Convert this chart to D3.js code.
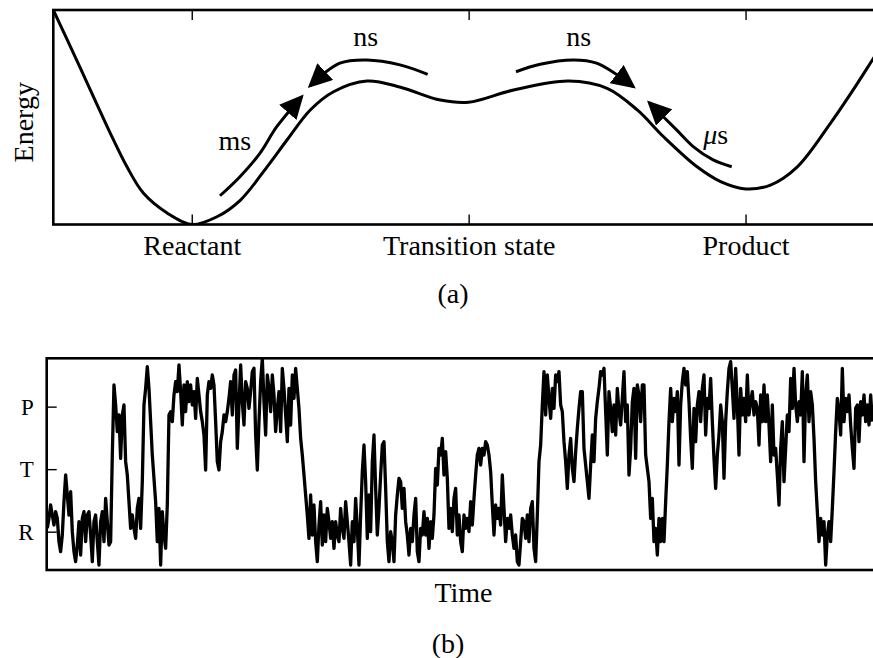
<!DOCTYPE html>
<html>
<head>
<meta charset="utf-8">
<script src="https://cdn.jsdelivr.net/npm/d3@7"></script>
<style>
  html, body { margin: 0; padding: 0; background: #ffffff; }
  svg { display: block; }
</style>
</head>
<body>
<svg id="fig" width="873" height="658"></svg>
<script>
// ---------- Panel (a): free-energy landscape along the reaction coordinate ----------
const stateTicks = [-1, 0, 1];
const stateNames = ["Reactant", "Transition state", "Product"];

// reaction coordinate (Reactant = -1, transition state = 0, Product = 1) and energy
const landscapeX = [-1.5, -1.414, -1.342, -1.294, -1.234, -1.175, -1.089, -1.0, -0.909, -0.824,
  -0.728, -0.656, -0.572, -0.488, -0.367, -0.246, -0.102, 0.0, 0.162, 0.361,
  0.5, 0.609, 0.704, 0.825, 0.91, 1.0, 1.09, 1.187, 1.307, 1.404, 1.462, 1.5];
const landscapeE = [1.0, 0.762, 0.559, 0.425, 0.269, 0.147, 0.054, 0.0, 0.036, 0.114,
  0.269, 0.394, 0.534, 0.619, 0.669, 0.64, 0.58, 0.57, 0.627, 0.669,
  0.635, 0.534, 0.409, 0.269, 0.2, 0.166, 0.184, 0.269, 0.473, 0.658, 0.775, 0.85];

// curved arrows for the transitions, in (coordinate, energy) pairs
const arrowMs = [[-0.898, 0.134], [-0.826, 0.223], [-0.754, 0.332], [-0.693, 0.456], [-0.603, 0.596]];
const arrowNsLeft = [[-0.148, 0.700], [-0.248, 0.744], [-0.368, 0.767], [-0.465, 0.752], [-0.573, 0.646]];
const arrowNsRight = [[0.171, 0.712], [0.258, 0.747], [0.378, 0.767], [0.462, 0.752], [0.595, 0.642]];
const arrowUs = [[0.950, 0.269], [0.883, 0.301], [0.811, 0.363], [0.751, 0.441], [0.652, 0.568]];
const arrowLabels = ["ms", "ns", "ns", "\u03BCs"];

// ---------- Panel (b): trajectory switching between R, T and P ----------
const stateLevels = [0, 75, 150];
const stateLetters = ["R", "T", "P"];

const traceValues = [
  // first stretch in R, two short excursions
  4,16,32,20,8,24,16,-12,-24,-4, 36,68,44,20,48,0,-24,-36,-16,12,
  -28,16,24,-12,20,24,-4,-36,12,20, -12,-40,12,24,-12,40,12,-16,-12,92,
  176,152,120,140,88,140,152,84,68,36, 4,20,4,-8,28,40,4,60,152,172,
  198,172,132,92,64,36,-12,28,-40,24,
  // long dwell in P
  -4,-20,32,140,144,132,164,180,168,200, 168,128,176,144,180,156,176,152,168,136,
  184,164,144,132,116,74,164,180,172,188, 176,132,84,74,108,120,140,132,144,160,
  180,140,188,194,100,152,200,156,128,180, 172,148,168,192,196,116,74,132,180,208,
  156,116,188,172,144,188,164,120,148,168, 120,196,
  // back to R
  172,140,108,172,128,188,160,196,172,148, 112,92,68,44,20,-8,44,-4,32,-12,
  -36,8,36,-16,20,-12,28,12,-8,12, -20,12,-4,-12,28,4,-8,36,12,-12,
  -40,12,-12,40,4,-40,20,72,104,60, -8,44,0,84,116,52,-4,28,68,104,
  108,52,-12,-36,0,-12,-36,20,44,64, 60,28,
  52,12,-4,-28,4,-12,20,40,-24,-36, 4,-4,24,-4,16,-20,12,-8,20,76,
  56,100,92,112,68,96,64,4,28,0, 40,52,-4,20,-12,-24,20,4,16,0,
  36,8,40,68,92,100,80,100,92,108, 104,92,72,32,-4,32,16,28,8,68,
  28,-12,16,4,20,-4,-20,-4,-36,-40, -12,16,
  // second dwell in P
  12,-8,20,-12,28,36,-20,-36,20,84, 104,152,192,140,188,160,136,172,148,188,
  180,192,152,144,108,84,52,92,112,76, 60,96,124,148,168,168,100,80,60,40,
  80,116,84,136,156,172,192,188,196,144, 92,168,148,120,152,116,172,144,128,160,
  192,132,152,68,100,156,172,88,176,164, 132,176,
  176,92,76,60,16,40,-12,4,-28,16, -12,16,-12,36,80,132,172,132,160,144,
  168,80,152,180,196,176,192,156,112,76, 148,108,152,168,132,172,188,116,160,148,
  184,132,88,52,92,116,152,132,64,132, 168,196,204,172,136,196,152,92,172,140,
  160,132,188,140,156,168,140,156,148,104, 164,132,
  176,132,164,128,84,152,92,100,68,32, 100,132,60,100,140,120,184,148,196,152,
  132,156,140,192,84,164,188,132,168,152, 112,60,24,-12,16,-4,12,-40,-4,12,
  -12,28,72,120,160,144,116,196,132,160, 144,164,128,100,76,148,152,108,156,140,
  164,132,152,128,164,132
];

// ---------- drawing ----------
const serif = "'Liberation Serif', 'DejaVu Serif', serif";
const svg = d3.select("#fig");
const defs = svg.append("defs");

defs.append("marker")
  .attr("id", "head")
  .attr("viewBox", "0 0 24 23")
  .attr("refX", 21).attr("refY", 11.5)
  .attr("markerWidth", 24).attr("markerHeight", 23)
  .attr("markerUnits", "userSpaceOnUse")
  .attr("orient", "auto")
  .append("path").attr("d", "M0,0 L24,11.5 L0,23 Z").attr("fill", "#000");

// panel (a) scales
const xA = d3.scaleLinear().domain([-1.5, 1.5]).range([53.3, 884]);
const yA = d3.scaleLinear().domain([0, 1]).range([224.5, 10]);

defs.append("clipPath").attr("id", "clipA").append("rect")
  .attr("x", xA.range()[0]).attr("y", yA.range()[1])
  .attr("width", xA.range()[1] - xA.range()[0])
  .attr("height", yA.range()[0] - yA.range()[1]);

const gA = svg.append("g");

gA.append("path")
  .datum(d3.zip(landscapeX, landscapeE))
  .attr("clip-path", "url(#clipA)")
  .attr("d", d3.line().x(d => xA(d[0])).y(d => yA(d[1])).curve(d3.curveCatmullRom.alpha(0.5)))
  .attr("fill", "none").attr("stroke", "#000").attr("stroke-width", 3);

const arrowLine = d3.line().x(d => xA(d[0])).y(d => yA(d[1])).curve(d3.curveCatmullRom.alpha(0.5));
[arrowMs, arrowNsLeft, arrowNsRight, arrowUs].forEach(a => {
  gA.append("path")
    .attr("d", arrowLine(a))
    .attr("fill", "none").attr("stroke", "#000").attr("stroke-width", 3)
    .attr("marker-end", "url(#head)");
});

const labelAt = [[-0.844, 0.347], [-0.372, 0.832], [0.397, 0.832], [0.892, 0.375]];
labelAt.forEach((p, i) => {
  const t = gA.append("text")
    .attr("x", xA(p[0])).attr("y", yA(p[1]))
    .attr("text-anchor", "middle")
    .attr("font-family", serif).attr("font-size", 28);
  if (arrowLabels[i].startsWith("\u03BC")) {
    t.append("tspan").attr("font-style", "italic").text("\u03BC");
    t.append("tspan").text(arrowLabels[i].slice(1));
  } else {
    t.text(arrowLabels[i]);
  }
});

// frame and ticks of panel (a)
gA.append("rect")
  .attr("x", xA.range()[0]).attr("y", yA.range()[1])
  .attr("width", xA.range()[1] - xA.range()[0])
  .attr("height", yA.range()[0] - yA.range()[1])
  .attr("fill", "none").attr("stroke", "#000").attr("stroke-width", 2.6);

const axA = gA.append("g").attr("transform", `translate(0,${yA.range()[0]})`)
  .call(d3.axisBottom(xA).tickValues(stateTicks).tickSize(-10).tickSizeOuter(0)
    .tickPadding(10.5).tickFormat((d, i) => stateNames[i]));
const axAtop = gA.append("g").attr("transform", `translate(0,${yA.range()[1]})`)
  .call(d3.axisTop(xA).tickValues(stateTicks).tickSize(-10).tickSizeOuter(0).tickFormat(""));
[axA, axAtop].forEach(ax => {
  ax.select(".domain").remove();
  ax.selectAll(".tick line").attr("stroke", "#000").attr("stroke-width", 1.4);
  ax.selectAll("text").attr("font-family", serif).attr("font-size", 28).attr("fill", "#000");
});

gA.append("text")
  .attr("transform", `translate(33,${(yA.range()[0] + yA.range()[1]) / 2 + 5}) rotate(-90)`)
  .attr("text-anchor", "middle")
  .attr("font-family", serif).attr("font-size", 28)
  .text("Energy");

svg.append("text").attr("x", 453).attr("y", 303)
  .attr("text-anchor", "middle").attr("font-family", serif).attr("font-size", 28)
  .text("(a)");

// panel (b) scales
const xB = d3.scaleLinear().domain([0, 502]).range([47.3, 884]);
const yB = d3.scaleLinear().domain([-46, 208]).range([570, 358.3]);

defs.append("clipPath").attr("id", "clipB").append("rect")
  .attr("x", 46.7).attr("y", yB.range()[1])
  .attr("width", xB.range()[1] - 46.7)
  .attr("height", yB.range()[0] - yB.range()[1]);

const gB = svg.append("g");

gB.append("path")
  .datum(traceValues)
  .attr("clip-path", "url(#clipB)")
  .attr("d", d3.line().x((d, i) => xB(i)).y(d => yB(d)))
  .attr("fill", "none").attr("stroke", "#000").attr("stroke-width", 3.3)
  .attr("stroke-linejoin", "round");

gB.append("rect")
  .attr("x", 46.7).attr("y", yB.range()[1])
  .attr("width", xB.range()[1] - 46.7)
  .attr("height", yB.range()[0] - yB.range()[1])
  .attr("fill", "none").attr("stroke", "#000").attr("stroke-width", 2.6);

const axBl = gB.append("g").attr("transform", "translate(46.7,0)")
  .call(d3.axisLeft(yB).tickValues(stateLevels).tickSize(-10).tickSizeOuter(0)
    .tickPadding(13).tickFormat((d, i) => stateLetters[i]));
const axBr = gB.append("g").attr("transform", `translate(${xB.range()[1]},0)`)
  .call(d3.axisRight(yB).tickValues(stateLevels).tickSize(-10).tickSizeOuter(0).tickFormat(""));
[axBl, axBr].forEach(ax => {
  ax.select(".domain").remove();
  ax.selectAll(".tick line").attr("stroke", "#000").attr("stroke-width", 1.4);
  ax.selectAll("text").attr("font-family", serif).attr("font-size", 23).attr("fill", "#000");
});

svg.append("text").attr("x", 463.5).attr("y", 602)
  .attr("text-anchor", "middle").attr("font-family", serif).attr("font-size", 28)
  .text("Time");

svg.append("text").attr("x", 448).attr("y", 653)
  .attr("text-anchor", "middle").attr("font-family", serif).attr("font-size", 28)
  .text("(b)");
</script>
</body>
</html>
